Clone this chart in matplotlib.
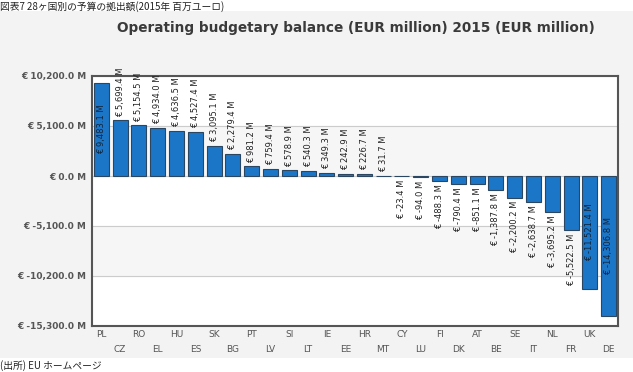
import numpy as np
import matplotlib.pyplot as plt

plt.rcParams['font.family'] = ['DejaVu Sans', 'Noto Sans CJK JP']

countries = ['PL', 'CZ', 'RO', 'EL', 'HU', 'ES', 'SK', 'BG', 'PT', 'LV', 'SI', 'LT', 'IE', 'EE',
             'HR', 'MT', 'CY', 'LU', 'FI', 'DK', 'AT', 'BE', 'SE', 'IT', 'NL', 'FR', 'UK', 'DE']
balance = [9483.1, 5699.4, 5154.5, 4934.0, 4636.5, 4527.4, 3095.1, 2279.4, 981.2, 759.4,
           578.9, 540.3, 349.3, 242.9, 226.7, 31.7, -23.4, -94.0, -488.3, -790.4, -851.1,
           -1387.8, -2200.2, -2638.7, -3695.2, -5522.5, -11521.4, -14306.8]
inside = ['PL', 'UK', 'DE']
yticks = [-15300, -10200, -5100, 0, 5100, 10200]

fig = plt.figure(figsize=(6.33, 3.72), dpi=100)
fig.patch.set_facecolor('white')

# grey panel behind the chart
panel = plt.Rectangle((0, 1 - 358 / 372), 1, (358 - 11) / 372, transform=fig.transFigure,
                      facecolor='#f3f3f3', edgecolor='none', zorder=-10)
fig.patches.append(panel)

fig.text(0.0, 0.998, '図表7 28ヶ国別の予算の拠出額(2015年 百万ユーロ)', fontsize=7,
         family=['Noto Sans CJK JP'], ha='left', va='top', color='#222222')
fig.text(0.0, 0.004, '(出所) EU ホームページ', fontsize=7, family=['Noto Sans CJK JP'],
         ha='left', va='bottom', color='#222222')

ax = fig.add_axes([92 / 633, 1 - 326 / 372, (618 - 92) / 633, (326 - 76) / 372])
x = np.arange(len(countries))
ax.set_xlim(-0.5, len(countries) - 0.5)
ax.set_ylim(-15300, 10200)

# alternating bands
for i in range(len(yticks) - 1):
    if i % 2 == 1:
        ax.axhspan(yticks[i], yticks[i + 1], color='#f6f6f6', zorder=0)
for t in yticks:
    ax.axhline(t, color='#cccccc', lw=0.8, zorder=1)

ax.bar(x, balance, width=0.8, color='#1c76c8', edgecolor='#2b4660', linewidth=0.8, zorder=3)

for xi, c, v in zip(x, countries, balance):
    lab = '€ {:,.1f} M'.format(v)
    if c in inside:
        ax.text(xi, v / 2, lab, rotation=90, ha='center', va='center', fontsize=6,
                color='#10243a', zorder=4)
    elif v >= 0:
        ax.text(xi, v + 350, lab, rotation=90, ha='center', va='bottom', fontsize=6,
                color='#222222', clip_on=False, zorder=4)
    else:
        ax.text(xi, v - 350, lab, rotation=90, ha='center', va='top', fontsize=6,
                color='#222222', clip_on=False, zorder=4)

ax.set_yticks(yticks)
ax.set_yticklabels(['€ {:,.1f} M'.format(t) for t in yticks], fontsize=6.5,
                   fontweight='bold', color='#555555')
ax.set_xticks(x)
ax.set_xticklabels([])
for xi, c in zip(x, countries):
    ax.text(xi, -0.035 if xi % 2 == 0 else -0.095, c, transform=ax.get_xaxis_transform(),
            ha='center', va='center', fontsize=6.5, color='#555555')
ax.tick_params(length=0, pad=4)
for s in ax.spines.values():
    s.set_color('#555555')
    s.set_linewidth(1.5)

fig.text(356 / 633, 1 - 28 / 372, 'Operating budgetary balance (EUR million) 2015 (EUR million)',
         fontsize=9.8, fontweight='bold', color='#3a3a3a', ha='center', va='center')

fig.savefig('out.png', dpi=100)
